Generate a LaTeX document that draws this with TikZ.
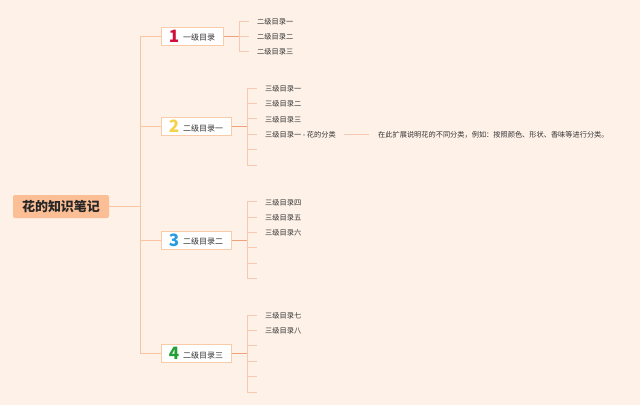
\documentclass[tikz,border=0pt]{standalone}
\usepackage{fontspec}
\setmainfont{Noto Sans CJK SC}
\newfontfamily\numfont{Noto Sans CJK SC}
\definecolor{bgc}{HTML}{FEF1E8}
\definecolor{rootc}{HTML}{FBBE95}
\definecolor{trunkc}{HTML}{F8C4A4}
\definecolor{juncc}{HTML}{F0A37A}
\definecolor{leafc}{HTML}{F9C8B2}
\definecolor{boxc}{HTML}{F9CBA8}
\definecolor{txtc}{HTML}{333333}
\definecolor{n1}{HTML}{D0103A}
\definecolor{n2}{HTML}{F7D04A}
\definecolor{n3}{HTML}{2A9BE0}
\definecolor{n4}{HTML}{22A033}
\begin{document}
\begin{tikzpicture}[x=1pt,y=-1pt,
  rootbox/.style={fill=rootc,rounded corners=2pt,minimum width=96pt,minimum height=23pt,inner sep=0pt,font=\fontsize{13}{13}\selectfont\bfseries,text=black!85},
  branchbox/.style={fill=white,draw=boxc,line width=1pt,minimum height=18pt,inner sep=0pt,font=\fontsize{8}{8}\selectfont,text=txtc},
  leaftext/.style={anchor=west,inner xsep=8pt,inner ysep=0pt,font=\fontsize{7.2}{7.2}\selectfont,text=txtc,yshift=-0.8pt},
  trunkline/.style={draw=trunkc,line width=1pt},
  juncline/.style={draw=juncc,line width=1pt},
  leafline/.style={draw=leafc,line width=0.8pt}]
\fill[bgc] (0,0) rectangle (640,405);
\useasboundingbox (0,0) rectangle (640,405);

% root
\node[rootbox] (root) at (61,206.5) {花的知识笔记};
\coordinate (t) at (140,206.5);

% branches
\node[branchbox,minimum width=62pt] (b1) at (192,36) {\raisebox{-1.5pt}{\numfont\fontsize{17}{17}\selectfont\bfseries\color{n1}1}\hspace{4pt}一级目录};
\node[branchbox,minimum width=70pt] (b2) at (196,126.5) {\raisebox{-1.5pt}{\numfont\fontsize{17}{17}\selectfont\bfseries\color{n2}2}\hspace{4pt}二级目录一};
\node[branchbox,minimum width=70pt] (b3) at (196,240) {\raisebox{-1.5pt}{\numfont\fontsize{17}{17}\selectfont\bfseries\color{n3}3}\hspace{4pt}二级目录二};
\node[branchbox,minimum width=70pt] (b4) at (196,353.5) {\raisebox{-1.5pt}{\numfont\fontsize{17}{17}\selectfont\bfseries\color{n4}4}\hspace{4pt}二级目录三};

\path[trunkline] (root.east) -- (t);
\path[trunkline] (t) |- (b1.west);
\path[trunkline] (t) |- (b2.west);
\path[trunkline] (t) |- (b3.west);
\path[trunkline] (t) |- (b4.west);

% junctions
\coordinate (j1) at (239,36);
\coordinate (j2) at (247,126.5);
\coordinate (j3) at (247,240);
\coordinate (j4) at (247,353.5);
\path[juncline] (b1.east) -- (j1);
\path[juncline] (b2.east) -- (j2);
\path[juncline] (b3.east) -- (j3);
\path[juncline] (b4.east) -- (j4);

% leaves of branch 1
\coordinate (p11) at (249,21);
\coordinate (p12) at (249,36);
\coordinate (p13) at (249,51);
\node[leaftext] (l11) at (p11) {二级目录一};
\node[leaftext] (l12) at (p12) {二级目录二};
\node[leaftext] (l13) at (p13) {二级目录三};
\foreach \n in {p11,p12,p13} \path[leafline] (j1) |- (\n);

% leaves of branch 2
\coordinate (p21) at (257,88);
\coordinate (p22) at (257,103.4);
\coordinate (p23) at (257,118.8);
\coordinate (p24) at (257,134.2);
\coordinate (p25) at (257,149.6);
\coordinate (p26) at (257,165);
\node[leaftext] (l21) at (p21) {三级目录一};
\node[leaftext] (l22) at (p22) {三级目录二};
\node[leaftext] (l23) at (p23) {三级目录三};
\node[leaftext] (l24) at (p24) {三级目录一 - 花的分类};
\foreach \n in {p21,p22,p23,p24,p25,p26} \path[leafline] (j2) |- (\n);
\coordinate (d0) at (344,134.2);
\coordinate (d2) at (369,134.2);
\node[leaftext,inner xsep=0pt] (d1) at (378,134.2) {在此扩展说明花的不同分类，例如：按照颜色、形状、香味等进行分类。};
\path[leafline] (d0) -- (d2);

% leaves of branch 3
\coordinate (p31) at (257,201.5);
\coordinate (p32) at (257,216.9);
\coordinate (p33) at (257,232.3);
\coordinate (p34) at (257,247.7);
\coordinate (p35) at (257,263.1);
\coordinate (p36) at (257,278.5);
\node[leaftext] (l31) at (p31) {三级目录四};
\node[leaftext] (l32) at (p32) {三级目录五};
\node[leaftext] (l33) at (p33) {三级目录六};
\foreach \n in {p31,p32,p33,p34,p35,p36} \path[leafline] (j3) |- (\n);

% leaves of branch 4
\coordinate (p41) at (257,315);
\coordinate (p42) at (257,330.4);
\coordinate (p43) at (257,345.8);
\coordinate (p44) at (257,361.2);
\coordinate (p45) at (257,376.6);
\coordinate (p46) at (257,392);
\node[leaftext] (l41) at (p41) {三级目录七};
\node[leaftext] (l42) at (p42) {三级目录八};
\foreach \n in {p41,p42,p43,p44,p45,p46} \path[leafline] (j4) |- (\n);
\end{tikzpicture}
\end{document}
